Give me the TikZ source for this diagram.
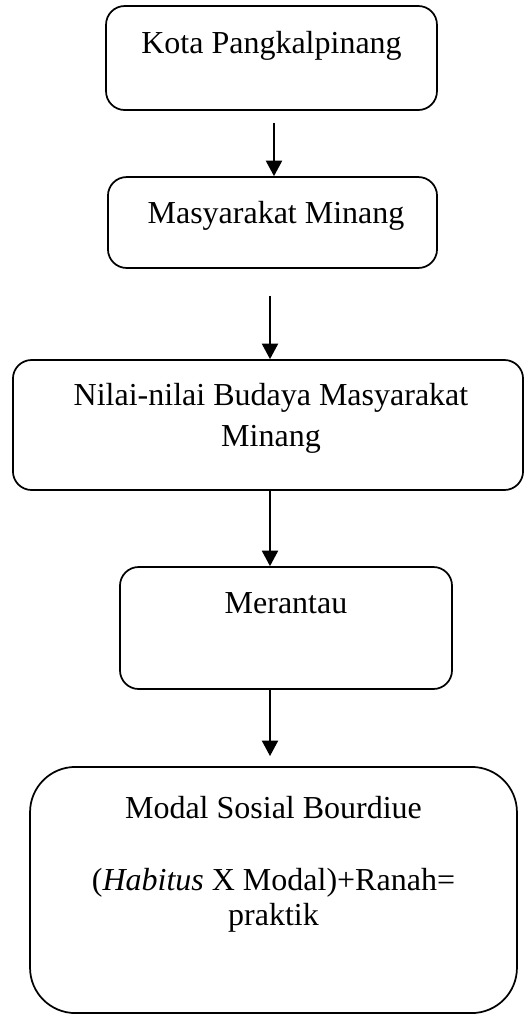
\documentclass[tikz,border=0pt]{standalone}
\usepackage{fontspec}
\setmainfont{Liberation Serif}
\usetikzlibrary{arrows.meta}

\begin{document}
\begin{tikzpicture}[x=0.375pt, y=-0.375pt,
        kotak/.style={draw, line width=0.65pt, rounded corners=7pt, inner sep=0pt},
        tulisan/.style={align=center, inner sep=0pt, font=\fontsize{12}{14.5}\selectfont},
        panah/.style={line width=0.75pt, -{Triangle[length=5.8pt,width=6pt]}}]
        \useasboundingbox (0,0) rectangle (530,1016);
        % kotak-kotak
        \node[kotak, minimum width=124.1pt, minimum height=39pt] (kota) at (271.5,58) {};
        \node[kotak, minimum width=123.4pt, minimum height=34.1pt] (masy) at (272.5,222.5) {};
        \node[kotak, minimum width=191.3pt, minimum height=48.75pt] (nilai) at (268,425) {};
        \node[kotak, minimum width=124.5pt, minimum height=45.75pt] (rantau) at (286,628) {};
        \node[kotak, rounded corners=17pt, minimum width=182.6pt, minimum height=92.3pt] (modal) at (273.5,890) {};
        % tulisan
        \node[tulisan] (tkota) at (271.5,46) {Kota Pangkalpinang};
        \node[tulisan] (tmasy) at (276,216) {Masyarakat Minang};
        \node[tulisan, font=\fontsize{12}{15.4}\selectfont] (tnilai) at (271,418) {Nilai-nilai Budaya Masyarakat\\Minang};
        \node[tulisan] (trantau) at (286,603) {Merantau};
        \node[tulisan] (tmodal) at (273.5,808) {Modal Sosial Bourdiue};
        \node[tulisan, font=\fontsize{12}{13.1}\selectfont] (trumus) at (273.5,900) {(\textit{Habitus} X Modal)+Ranah=\\praktik};
        % panah
        \coordinate (g1) at (274,0);
        \coordinate (g2) at (270,0);
        \draw[panah, shorten <=4.5pt] (kota.south -| g1) -- (masy.north -| g1);
        \draw[panah, shorten <=10pt] (masy.south -| g2) -- (nilai.north -| g2);
        \draw[panah] (nilai.south -| g2) -- (rantau.north -| g2);
        \draw[panah, shorten >=3.75pt] (rantau.south -| g2) -- (modal.north -| g2);
\end{tikzpicture}
\end{document}
